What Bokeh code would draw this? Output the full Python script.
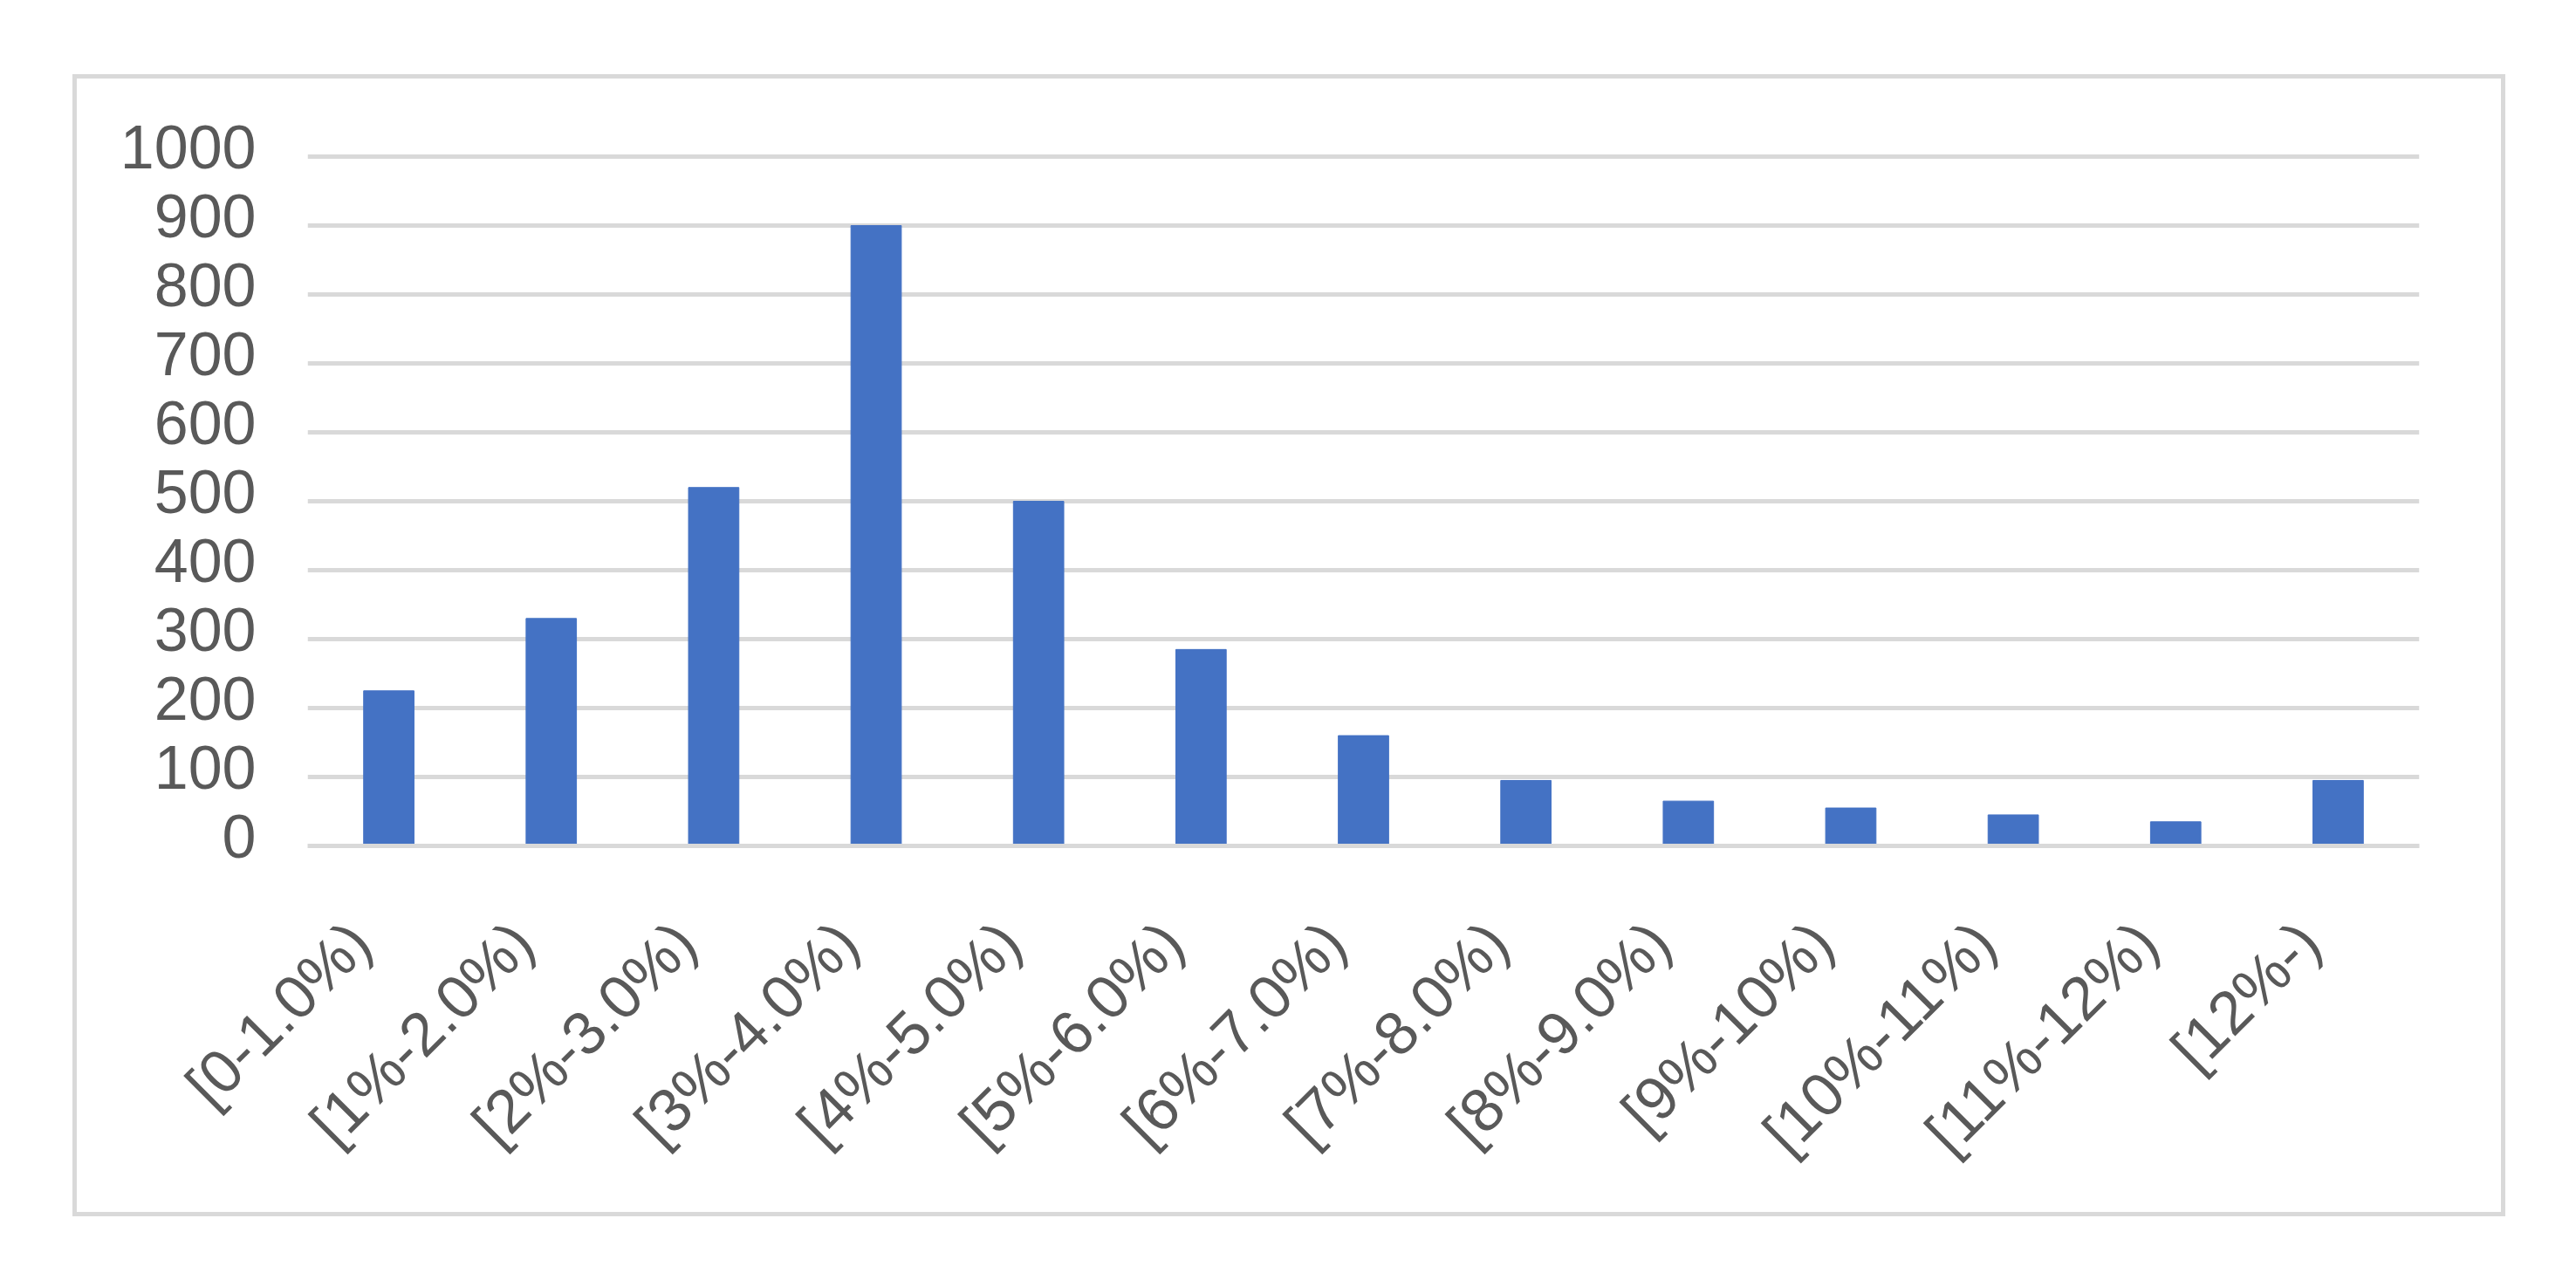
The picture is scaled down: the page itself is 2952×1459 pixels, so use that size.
import math
from bokeh.plotting import figure
from bokeh.models import FixedTicker, Range1d, ColumnDataSource
from bokeh.embed import file_html
from bokeh.resources import INLINE

categories = ["[0-1.0%)", "[1%-2.0%)", "[2%-3.0%)", "[3%-4.0%)", "[4%-5.0%)",
              "[5%-6.0%)", "[6%-7.0%)", "[7%-8.0%)", "[8%-9.0%)", "[9%-10%)",
              "[10%-11%)", "[11%-12%)", "[12%-)"]
counts = [225, 330, 520, 900, 500, 285, 160, 95, 65, 55, 45, 35, 95]
y_ticks = [0, 100, 200, 300, 400, 500, 600, 700, 800, 900, 1000]

FONT = "Liberation Sans"
GRAY = "#595959"
GRID = "#d9d9d9"

n = len(categories)
centers = [i + 0.5 for i in range(n)]
src = ColumnDataSource(dict(x=centers, top=counts, cat=categories))

# value labels sit a little above their gridlines, as in Excel
y_label_lift = 14
p = figure(x_range=Range1d(0, n), y_range=Range1d(0, y_ticks[-1] + y_label_lift),
           width=2788, height=1309,
           output_backend="svg", toolbar_location=None,
           min_border_left=264, min_border_right=104,
           min_border_top=78, min_border_bottom=430)
p.margin = (85, 0, 0, 83)
p.styles = {"border": "5px solid #d9d9d9"}

p.vbar(x="x", top="top", width=0.31, color="#4472C4", source=src)

p.outline_line_color = None
p.background_fill_color = "white"
p.border_fill_color = "white"

p.xgrid.grid_line_color = None
p.ygrid.ticker = FixedTicker(ticks=y_ticks)
p.ygrid.grid_line_color = GRID
p.ygrid.grid_line_width = 5

ylab_pos = [t + y_label_lift for t in y_ticks]
yax = p.yaxis[0]
yax.ticker = FixedTicker(ticks=ylab_pos)
yax.major_label_overrides = {pos: str(t) for pos, t in zip(ylab_pos, y_ticks)}
yax.axis_line_color = None
yax.major_tick_line_color = None
yax.minor_tick_line_color = None
yax.major_label_standoff = 53
yax.major_label_text_font = FONT
yax.major_label_text_font_size = "70px"
yax.major_label_text_color = GRAY

# category labels sit slightly left of the bar centres, as in Excel
shift = 0.177
label_pos = [c - shift for c in centers]
xax = p.xaxis[0]
xax.ticker = FixedTicker(ticks=label_pos)
xax.major_label_overrides = {pos: c for pos, c in zip(label_pos, categories)}
xax.axis_line_color = GRID
xax.axis_line_width = 5
xax.major_tick_line_color = None
xax.minor_tick_line_color = None
xax.major_label_orientation = math.pi / 4
xax.major_label_standoff = 93
xax.major_label_text_font = FONT
xax.major_label_text_font_size = "70px"
xax.major_label_text_color = GRAY

open("out.html", "w").write(file_html(p, INLINE))
